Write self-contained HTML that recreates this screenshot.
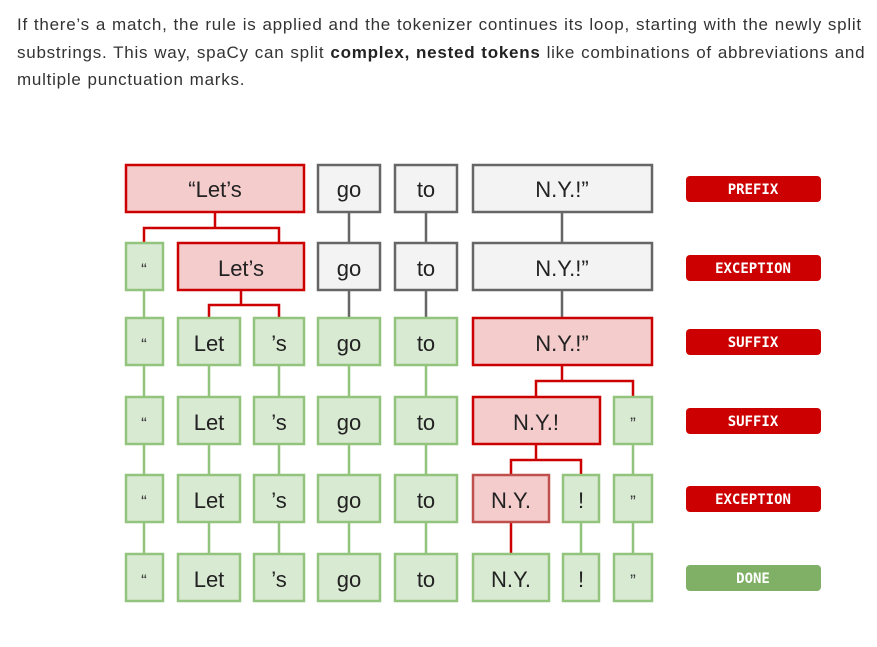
<!DOCTYPE html>
<html><head><meta charset="utf-8"><style>
body{margin:0;background:#fff;width:877px;height:647px;overflow:hidden;}
p{position:absolute;left:17px;top:11px;margin:0;font-family:"Liberation Sans",sans-serif;font-size:17px;letter-spacing:0.75px;word-spacing:0.5px;line-height:27.5px;color:#333;white-space:nowrap;}
svg{position:absolute;left:0;top:0;}
.r{fill:#f4cccc;stroke:#cc0000;stroke-width:2.5}
.g{fill:#f3f3f3;stroke:#666;stroke-width:2.5}
.n{fill:#d9ead3;stroke:#93c47d;stroke-width:2.5}
.t{font-family:"Liberation Sans",sans-serif;font-size:22px;fill:#222;text-anchor:middle}
.q{font-family:"Liberation Sans",sans-serif;font-size:17px;fill:#333;text-anchor:middle}
.lr{stroke:#cc0000;stroke-width:2.5;fill:none}
.lg{stroke:#666;stroke-width:2.5;fill:none}
.ln{stroke:#93c47d;stroke-width:2.5;fill:none}
.b{font-family:"DejaVu Sans Mono",monospace;font-weight:bold;font-size:14px;fill:#fff;text-anchor:middle}
</style></head><body>
<p>If there’s a match, the rule is applied and the tokenizer continues its loop, starting with the newly split<br>substrings. This way, spaCy can split <b style="color:#222">complex, nested tokens</b> like combinations of abbreviations and<br>multiple punctuation marks.</p>
<svg width="877" height="647">
<path class="lr" d="M215 213V228M144 242V228H279V242"/>
<path class="lr" d="M241 291V305M209 317V305H279V317"/>
<path class="lr" d="M562 366V381M536 396V381H633V396"/>
<path class="lr" d="M536 445V460M511 474V460H581V474"/>
<path class="lr" d="M511 523V553"/>
<path class="lg" d="M349 213V242M426 213V242M562 213V242M349 291V317M426 291V317M562 291V317"/>
<path class="ln" d="M144 291V317M144 366V396M209 366V396M279 366V396M349 366V396M426 366V396
M144 445V474M209 445V474M279 445V474M349 445V474M426 445V474M633 445V474
M144 523V553M209 523V553M279 523V553M349 523V553M426 523V553M581 523V553M633 523V553"/>
<rect class="r" x="126" y="165" width="178" height="47"/><text class="t" x="215" y="197">“Let’s</text>
<rect class="g" x="318" y="165" width="62" height="47"/><text class="t" x="349" y="197">go</text>
<rect class="g" x="395" y="165" width="62" height="47"/><text class="t" x="426" y="197">to</text>
<rect class="g" x="473" y="165" width="179" height="47"/><text class="t" x="562" y="197">N.Y.!”</text>
<rect class="n" x="126" y="243" width="37" height="47"/><text class="q" x="144" y="275">“</text>
<rect class="r" x="178" y="243" width="126" height="47"/><text class="t" x="241" y="276">Let’s</text>
<rect class="g" x="318" y="243" width="62" height="47"/><text class="t" x="349" y="276">go</text>
<rect class="g" x="395" y="243" width="62" height="47"/><text class="t" x="426" y="276">to</text>
<rect class="g" x="473" y="243" width="179" height="47"/><text class="t" x="562" y="276">N.Y.!”</text>
<rect class="n" x="126" y="318" width="37" height="47"/><text class="q" x="144" y="350">“</text>
<rect class="n" x="178" y="318" width="62" height="47"/><text class="t" x="209" y="351">Let</text>
<rect class="n" x="254" y="318" width="50" height="47"/><text class="t" x="279" y="351">’s</text>
<rect class="n" x="318" y="318" width="62" height="47"/><text class="t" x="349" y="351">go</text>
<rect class="n" x="395" y="318" width="62" height="47"/><text class="t" x="426" y="351">to</text>
<rect class="r" x="473" y="318" width="179" height="47"/><text class="t" x="562" y="351">N.Y.!”</text>
<rect class="n" x="126" y="397" width="37" height="47"/><text class="q" x="144" y="429">“</text>
<rect class="n" x="178" y="397" width="62" height="47"/><text class="t" x="209" y="430">Let</text>
<rect class="n" x="254" y="397" width="50" height="47"/><text class="t" x="279" y="430">’s</text>
<rect class="n" x="318" y="397" width="62" height="47"/><text class="t" x="349" y="430">go</text>
<rect class="n" x="395" y="397" width="62" height="47"/><text class="t" x="426" y="430">to</text>
<rect class="r" x="473" y="397" width="127" height="47"/><text class="t" x="536" y="430">N.Y.!</text>
<rect class="n" x="614" y="397" width="38" height="47"/><text class="q" x="633" y="429">”</text>
<rect class="n" x="126" y="475" width="37" height="47"/><text class="q" x="144" y="507">“</text>
<rect class="n" x="178" y="475" width="62" height="47"/><text class="t" x="209" y="508">Let</text>
<rect class="n" x="254" y="475" width="50" height="47"/><text class="t" x="279" y="508">’s</text>
<rect class="n" x="318" y="475" width="62" height="47"/><text class="t" x="349" y="508">go</text>
<rect class="n" x="395" y="475" width="62" height="47"/><text class="t" x="426" y="508">to</text>
<rect x="473" y="475" width="76" height="47" style="fill:#f4cccc;stroke:#c0504d;stroke-width:2.5"/><text class="t" x="511" y="508">N.Y.</text>
<rect class="n" x="563" y="475" width="36" height="47"/><text class="t" x="581" y="508">!</text>
<rect class="n" x="614" y="475" width="38" height="47"/><text class="q" x="633" y="507">”</text>
<rect class="n" x="126" y="554" width="37" height="47"/><text class="q" x="144" y="586">“</text>
<rect class="n" x="178" y="554" width="62" height="47"/><text class="t" x="209" y="587">Let</text>
<rect class="n" x="254" y="554" width="50" height="47"/><text class="t" x="279" y="587">’s</text>
<rect class="n" x="318" y="554" width="62" height="47"/><text class="t" x="349" y="587">go</text>
<rect class="n" x="395" y="554" width="62" height="47"/><text class="t" x="426" y="587">to</text>
<rect class="n" x="473" y="554" width="76" height="47"/><text class="t" x="511" y="587">N.Y.</text>
<rect class="n" x="563" y="554" width="36" height="47"/><text class="t" x="581" y="587">!</text>
<rect class="n" x="614" y="554" width="38" height="47"/><text class="q" x="633" y="586">”</text>
<rect x="686" y="176" width="135" height="26" rx="4" fill="#cc0000"/><text class="b" x="753" y="194">PREFIX</text>
<rect x="686" y="255" width="135" height="26" rx="4" fill="#cc0000"/><text class="b" x="753" y="273">EXCEPTION</text>
<rect x="686" y="329" width="135" height="26" rx="4" fill="#cc0000"/><text class="b" x="753" y="347">SUFFIX</text>
<rect x="686" y="408" width="135" height="26" rx="4" fill="#cc0000"/><text class="b" x="753" y="426">SUFFIX</text>
<rect x="686" y="486" width="135" height="26" rx="4" fill="#cc0000"/><text class="b" x="753" y="504">EXCEPTION</text>
<rect x="686" y="565" width="135" height="26" rx="4" fill="#7fb065"/><text class="b" x="753" y="583">DONE</text>
</svg>
</body></html>
